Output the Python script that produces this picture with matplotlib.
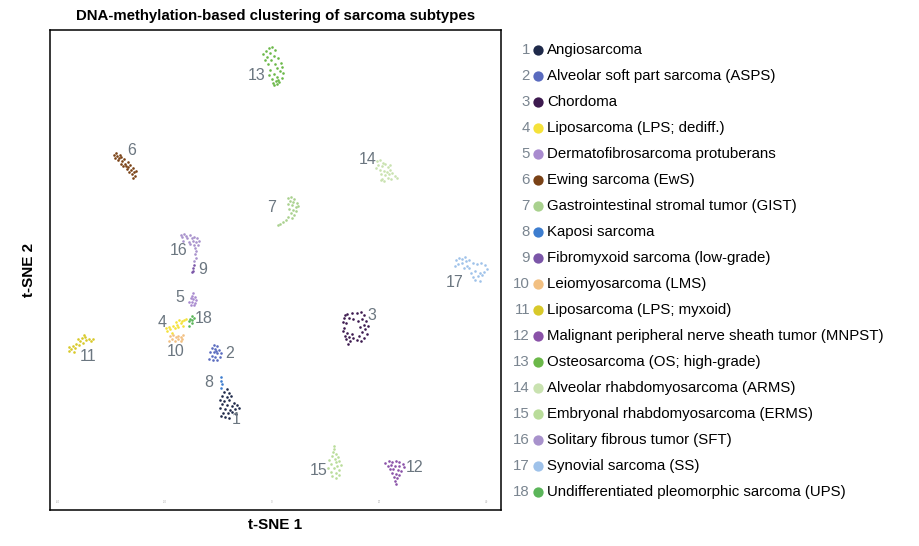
import matplotlib.pyplot as plt

plt.rcParams['font.family'] = ['Liberation Sans', 'DejaVu Sans']

names = ["Angiosarcoma", "Alveolar soft part sarcoma (ASPS)", "Chordoma",
         "Liposarcoma (LPS; dediff.)", "Dermatofibrosarcoma protuberans",
         "Ewing sarcoma (EwS)", "Gastrointestinal stromal tumor (GIST)",
         "Kaposi sarcoma", "Fibromyxoid sarcoma (low-grade)", "Leiomyosarcoma (LMS)",
         "Liposarcoma (LPS; myxoid)", "Malignant peripheral nerve sheath tumor (MNPST)",
         "Osteosarcoma (OS; high-grade)", "Alveolar rhabdomyosarcoma (ARMS)",
         "Embryonal rhabdomyosarcoma (ERMS)", "Solitary fibrous tumor (SFT)",
         "Synovial sarcoma (SS)", "Undifferentiated pleomorphic sarcoma (UPS)"]
colors = ["#1f2a4a", "#5a6bbf", "#3d1a4f", "#f5e23a", "#a98bcf", "#7a4216",
          "#a9d18e", "#3d7dcf", "#7b56a8", "#f2c082", "#d8c92a", "#8a52a8",
          "#6bb849", "#c9e2b0", "#b9dc9a", "#a892cc", "#9fc2ea", "#5bb55a"]

# t-SNE coordinates per subtype
c1 = [(-8.5,-22.2),(-8.9,-22.8),(-8.1,-23.1),(-9.4,-23.5),(-8.5,-23.7),(-7.6,-23.6),(-9.8,-24.3),
      (-8.9,-24.5),(-8.0,-24.4),(-7.2,-24.8),(-9.3,-25.1),(-8.4,-25.3),(-7.5,-25.4),(-6.6,-25.2),
      (-9.7,-25.8),(-8.8,-26.0),(-7.9,-26.1),(-7.0,-26.0),(-6.2,-25.9),(-9.2,-26.7),(-8.3,-26.8),
      (-7.4,-26.6),(-9.6,-27.3),(-8.7,-27.5),(-6.8,-26.9),(-8.0,-27.7)]
c2 = [(-10.8,-14.0),(-10.3,-14.3),(-11.2,-14.6),(-10.6,-14.8),(-9.9,-14.9),(-11.6,-15.3),(-10.9,-15.4),
      (-10.2,-15.6),(-9.6,-15.5),(-11.3,-16.0),(-10.6,-16.2),(-9.8,-16.3),(-11.0,-16.8),(-10.2,-16.9),
      (-11.7,-16.6),(-10.5,-15.1)]
c3 = [(14.0,-8.3),(14.9,-8.1),(15.8,-8.0),(16.6,-7.8),(17.2,-8.4),(13.4,-8.9),(14.3,-9.0),(16.9,-9.1),
      (17.6,-9.5),(13.2,-9.7),(13.9,-10.0),(17.2,-10.2),(17.9,-10.5),(13.5,-10.8),(16.4,-10.6),
      (17.4,-11.1),(13.2,-11.5),(14.1,-11.7),(16.8,-11.6),(17.7,-11.9),(13.6,-12.3),(15.0,-12.0),
      (16.2,-12.4),(17.2,-12.7),(13.9,-13.0),(14.6,-13.2),(15.8,-13.1),(16.6,-13.3),(14.2,-13.8),
      (15.2,-12.8),(15.1,-9.2),(16.0,-9.5),(13.7,-8.4),(14.4,-12.6)]
c4 = [(-19.6,-11.4),(-19.0,-11.1),(-19.3,-10.7),(-18.6,-10.5),(-18.2,-10.9),(-18.7,-11.8),(-17.8,-10.2),
      (-17.5,-10.6),(-17.1,-10.0),(-16.8,-9.6),(-16.4,-9.4),(-16.1,-9.1),(-18.0,-9.7),(-17.4,-9.3),
      (-16.7,-10.4),(-19.9,-10.9)]
c5 = [(-14.7,-4.3),(-14.9,-4.8),(-14.4,-5.0),(-15.2,-5.3),(-14.7,-5.5),(-14.2,-5.6),(-15.5,-5.9),
      (-14.9,-6.0),(-14.4,-6.2),(-15.1,-6.5),(-14.6,-6.6)]
c6 = [(-29.6,21.6),(-29.2,21.8),(-28.9,21.3),(-29.4,21.0),(-28.6,20.9),(-28.2,21.1),(-28.8,20.5),
      (-28.0,20.4),(-27.6,20.7),(-28.3,19.9),(-27.4,19.9),(-27.0,20.2),(-27.8,19.5),(-26.9,19.3),
      (-26.5,19.7),(-27.2,18.9),(-26.3,18.8),(-25.9,19.1),(-26.7,18.4),(-25.8,18.3),(-26.2,17.9),
      (-25.6,17.6),(-26.0,17.3),(-25.4,18.6),(-28.5,21.5),(-27.3,19.4)]
c7 = [(3.0,13.4),(3.6,13.6),(4.2,13.3),(3.3,12.9),(4.0,12.7),(4.6,12.5),(2.9,12.3),(3.7,12.1),
      (4.4,11.8),(3.2,11.5),(3.9,11.2),(4.5,11.0),(3.5,10.6),(4.1,10.3),(3.0,10.0),(3.7,9.7),
      (2.6,9.3),(2.0,8.9),(1.5,8.6),(1.1,8.4),(4.8,12.0)]
c8 = [(-9.5,-20.0),(-9.6,-20.8),(-9.4,-21.4),(-9.5,-22.0)]
c9 = [(-14.8,0.4),(-14.7,-0.1),(-14.9,-0.3),(-14.6,0.9)]
c10 = [(-19.0,-12.4),(-18.5,-12.2),(-18.0,-12.5),(-17.5,-12.3),(-17.0,-12.6),(-16.6,-12.2),(-18.7,-13.0),
       (-18.2,-13.2),(-17.6,-13.0),(-17.1,-13.3),(-19.2,-13.3),(-16.8,-13.0)]
c11 = [(-38.0,-15.2),(-37.5,-14.8),(-37.9,-14.4),(-37.2,-14.2),(-36.8,-14.6),(-36.6,-13.8),(-36.1,-14.1),
       (-35.9,-13.3),(-35.4,-13.6),(-35.6,-12.8),(-35.0,-12.6),(-34.7,-13.1),(-34.3,-12.9),(-33.8,-13.2),
       (-35.2,-12.2),(-37.0,-15.3),(-36.3,-13.0),(-33.5,-12.9)]
c12 = [(21.2,-36.1),(21.8,-35.8),(22.5,-35.9),(23.2,-35.8),(23.8,-36.0),(24.4,-36.3),(21.6,-36.6),
       (22.3,-36.5),(23.0,-36.6),(23.7,-36.7),(24.6,-36.9),(22.0,-37.2),(22.7,-37.3),(23.5,-37.4),
       (24.2,-37.6),(22.4,-38.0),(23.1,-38.1),(23.8,-38.3),(22.8,-38.8),(23.4,-39.0),(23.0,-39.5),(23.1,-40.0)]
c13 = [(-0.6,41.5),(0.0,41.8),(-1.2,41.0),(0.5,41.2),(-1.6,40.4),(-0.4,40.6),(0.3,40.0),(-1.0,39.8),
       (1.1,39.6),(-0.2,39.2),(1.6,38.8),(0.6,38.5),(-0.8,38.6),(1.9,38.0),(0.9,37.8),(-0.3,37.5),
       (1.4,37.2),(2.0,36.9),(0.4,36.7),(-0.6,36.4),(1.0,36.1),(1.8,35.9),(0.0,35.7),(0.7,35.4),
       (1.3,35.2),(0.2,35.0),(0.9,34.8),(0.4,34.6),(1.2,35.6),(-1.4,39.3)]
c14 = [(19.6,20.3),(20.2,20.6),(20.8,20.1),(19.9,19.6),(20.5,19.4),(21.2,19.8),(21.6,19.2),(20.1,18.8),
       (20.9,18.6),(21.5,18.4),(22.1,18.8),(20.4,18.0),(21.1,17.8),(21.9,17.9),(22.5,18.1),(22.9,17.6),
       (23.3,17.3),(21.6,17.3),(20.6,17.1),(22.3,17.0),(20.3,16.8),(21.0,16.6),(19.4,19.1),(22.0,19.6)]
c15 = [(11.5,-32.9),(11.6,-33.5),(11.4,-34.1),(11.9,-34.4),(11.2,-34.8),(12.3,-35.0),(11.7,-35.3),
       (10.7,-35.6),(12.6,-35.8),(11.9,-36.0),(11.1,-36.3),(12.2,-36.6),(12.9,-36.4),(10.5,-37.0),
       (11.6,-37.1),(12.5,-37.4),(11.0,-37.8),(11.9,-38.0),(12.6,-38.3),(11.3,-38.6),(11.9,-38.9)]
c16 = [(-17.0,6.6),(-16.4,6.8),(-16.8,6.1),(-16.1,6.3),(-15.4,6.5),(-15.8,5.9),(-15.0,6.0),(-14.5,6.2),
       (-14.0,5.9),(-16.6,5.5),(-15.6,5.3),(-14.8,5.5),(-14.2,5.2),(-13.6,5.4),(-15.3,4.8),(-14.6,4.7),
       (-13.9,4.6),(-14.4,4.1),(-14.2,3.5),(-14.4,2.9),(-14.3,2.3),(-14.5,1.7)]
c17 = [(34.4,1.8),(35.0,2.3),(35.6,2.0),(36.1,2.5),(34.8,1.2),(35.5,1.4),(36.3,1.6),(36.9,1.9),
       (37.5,1.4),(38.3,1.1),(39.1,1.3),(39.8,0.9),(40.2,0.2),(39.6,-0.3),(38.8,-0.5),(37.9,-0.2),
       (37.2,-0.6),(36.5,0.7),(35.8,0.3),(38.5,-1.1),(37.6,-1.3),(39.2,-1.0),(38.0,-1.8),(38.8,-2.0),
       (34.2,0.8),(36.9,0.3)]
c18 = [(-15.0,-8.6),(-14.6,-8.9),(-15.3,-9.1),(-14.9,-9.4),(-15.5,-9.6),(-15.0,-9.9),(-15.6,-10.4)]
clusters = [c1, c2, c3, c4, c5, c6, c7, c8, c9, c10, c11, c12, c13, c14, c15, c16, c17, c18]

# where each cluster number is written
label_pos = [(-6.7,-28.0),(-7.9,-15.7),(18.7,-8.6),(-20.6,-9.9),(-17.2,-5.2),(-26.2,22.4),
             (0.0,11.6),(-11.8,-21.1),(-12.9,0.0),(-18.1,-15.3),(-34.4,-16.1),(26.7,-37.0),
             (-2.8,36.4),(17.8,20.7),(8.8,-37.6),(-17.4,3.7),(34.2,-2.4),(-12.7,-9.0)]

fig = plt.figure(figsize=(9.2, 5.46), dpi=100)
ax = fig.add_axes([50/920, 36/546, 451/920, 480/546])

for i, pts in enumerate(clusters):
    xs = [p[0] for p in pts]
    ys = [p[1] for p in pts]
    ax.scatter(xs, ys, s=3.5, color=colors[i], linewidths=0)
    lx, ly = label_pos[i]
    ax.text(lx, ly, str(i + 1), fontsize=11.5, color="#6b7680", ha="center", va="center")

ax.set_xlim(-41.5, 42.8)
ax.set_ylim(-44.9, 44.9)
ax.set_xticks([-40, -20, 0, 20, 40])
ax.set_xticklabels(["-40", "-20", "0", "20", "40"])
ax.tick_params(axis="x", length=0, labelsize=2, pad=-7, labelcolor="#aaaaaa")
ax.set_yticks([])
for sp in ax.spines.values():
    sp.set_linewidth(1.1)
ax.set_xlabel("t-SNE 1", fontsize=11, fontweight="bold", labelpad=6)
ax.set_ylabel("t-SNE 2", fontsize=11, fontweight="bold", labelpad=10)
ax.set_title("DNA-methylation-based clustering of sarcoma subtypes", fontsize=10.8,
             fontweight="bold", pad=7)

# legend drawn in its own pixel-space axes
lg = fig.add_axes([505/920, 0, 415/920, 1])
lg.set_xlim(505, 920)
lg.set_ylim(546, 0)
lg.axis("off")
for i, name in enumerate(names):
    y = 50 + 26 * i
    lg.text(530, y, str(i + 1), fontsize=10.8, color="#7a8590", ha="right", va="center")
    lg.scatter([538], [y], s=55, color=colors[i], linewidths=0)
    lg.text(547, y, name, fontsize=10.8, color="black", ha="left", va="center")

fig.savefig("out.png", dpi=100)
